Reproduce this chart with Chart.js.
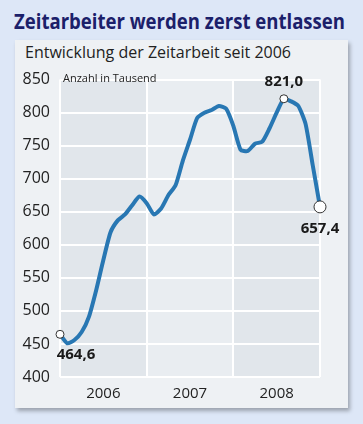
<!DOCTYPE html>
<html>
<head>
<meta charset="utf-8">
<script src="https://cdn.jsdelivr.net/npm/chart.js@4"></script>
<style>
  html, body { margin: 0; padding: 0; }
  body { width: 363px; height: 424px; background: #dde7f7; position: relative; overflow: hidden; font-family: "Open Sans", "Noto Sans", sans-serif; }
  #title { position: absolute; left: 14px; top: 7px; font-size: 21px; font-weight: bold; color: #1b206a; white-space: nowrap; transform-origin: 0 0; }
  #panel { position: absolute; left: 15px; top: 40px; width: 333px; height: 368px; background: #eef1f4; box-shadow: 2px 3px 4px rgba(0,0,0,0.3); }
  #sub { position: absolute; left: 10px; top: 1px; font-size: 16px; color: #222; white-space: nowrap; }
  #wrap { position: absolute; left: 0; top: 20px; width: 333px; height: 348px; }
</style>
</head>
<body>
<div id="title">Zeitarbeiter werden zerst entlassen</div>
<div id="panel">
  <div id="sub">Entwicklung der Zeitarbeit seit 2006</div>
  <div id="wrap"><canvas id="chart"></canvas></div>
</div>
<script>
// Monate Jan 2006 bis Jan 2009
const months = [
  '01/06','02/06','03/06','04/06','05/06','06/06','07/06','08/06','09/06','10/06','11/06','12/06',
  '01/07','02/07','03/07','04/07','05/07','06/07','07/07','08/07','09/07','10/07','11/07','12/07',
  '01/08','02/08','03/08','04/08','05/08','06/08','07/08','08/08','09/08','10/08','11/08','12/08',
  '01/09'
];
// Zeitarbeiter in Tausend
const workers = [
  464.6, 451, 456, 468, 491, 531, 577, 619, 637, 646, 660, 673,
  663, 646, 655, 675, 690, 727, 759, 792, 800, 804, 810, 806,
  780, 744, 742, 753, 756, 776, 800, 821.0, 817, 810, 783, 720,
  657.4
];
const yearLabels = ['2006', '2007', '2008'];
const yearLabelIdx = [6, 18, 30];
const yearBorderIdx = [0, 12, 24, 36];
const markedIdx = [0, 31, 36];
const markLabels = ['464,6', '821,0', '657,4'];

// Titel auf die Breite der Vorlage bringen
const title = document.getElementById('title');
title.style.transform = 'scaleX(' + (331 / title.getBoundingClientRect().width) + ')';

const bandPlugin = {
  id: 'bands',
  beforeDraw(chart) {
    const { ctx, chartArea, scales } = chart;
    const cols = ['#e1e6eb', '#e9edf1', '#e1e6eb'];
    ctx.save();
    for (let i = 0; i < 3; i++) {
      const x0 = scales.x.getPixelForValue(yearBorderIdx[i]);
      const x1 = scales.x.getPixelForValue(yearBorderIdx[i + 1]);
      ctx.fillStyle = cols[i];
      ctx.fillRect(x0, chartArea.top, x1 - x0, chartArea.bottom - chartArea.top);
    }
    ctx.restore();
  },
  afterDraw(chart) {
    const { ctx, scales } = chart;
    ctx.save();
    // Einheit neben 850
    ctx.font = '11px "Open Sans", sans-serif';
    ctx.fillStyle = '#222';
    ctx.textBaseline = 'middle';
    ctx.textAlign = 'left';
    ctx.fillText('Anzahl in Tausend', scales.y.right + 3, scales.y.getPixelForValue(850) - 1);
    // Werte an den markierten Punkten
    const meta = chart.getDatasetMeta(0);
    ctx.font = 'bold 15px "Open Sans", sans-serif';
    ctx.fillStyle = '#1a1a1a';
    ctx.textAlign = 'center';
    const offs = [[16, 20], [0, -17], [0, 22]];
    markedIdx.forEach((idx, i) => {
      const p = meta.data[idx];
      ctx.fillText(markLabels[i], p.x + offs[i][0], p.y + offs[i][1]);
    });
    ctx.restore();
  }
};

new Chart(document.getElementById('chart'), {
  type: 'line',
  data: {
    labels: months,
    datasets: [{
      data: workers,
      borderColor: '#2877b3',
      borderWidth: 4,
      tension: 0.2,
      borderCapStyle: 'round',
      borderJoinStyle: 'round',
      pointRadius: ctx => ctx.dataIndex === 36 ? 6 : (markedIdx.includes(ctx.dataIndex) ? 4 : 0),
      pointBackgroundColor: '#fff',
      pointBorderColor: '#333',
      pointBorderWidth: 1,
      clip: false
    }]
  },
  options: {
    responsive: true,
    maintainAspectRatio: false,
    animation: false,
    layout: { padding: { top: 19, right: 28, left: 0, bottom: 0 } },
    plugins: { legend: { display: false }, tooltip: { enabled: false } },
    scales: {
      x: {
        offset: false,
        border: { display: false },
        grid: {
          drawTicks: false,
          lineWidth: 2,
          color: ctx => yearBorderIdx.includes(ctx.index) ? '#ffffff' : 'rgba(0,0,0,0)'
        },
        ticks: {
          autoSkip: false,
          maxRotation: 0,
          padding: 8,
          color: '#222',
          font: { family: '"Open Sans", sans-serif', size: 15 },
          callback: (v, i) => {
            const k = yearLabelIdx.indexOf(i);
            return k >= 0 ? yearLabels[k] : '';
          }
        },
        afterFit: s => { s.height = 31; }
      },
      y: {
        min: 400,
        max: 850,
        border: { display: false },
        grid: { drawTicks: false, lineWidth: 2, color: '#ffffff' },
        ticks: {
          stepSize: 50,
          padding: 10,
          color: '#222',
          font: { family: '"Open Sans", sans-serif', size: 16 }
        },
        afterFit: s => { s.width = 45; }
      }
    }
  },
  plugins: [bandPlugin]
});
</script>
</body>
</html>
